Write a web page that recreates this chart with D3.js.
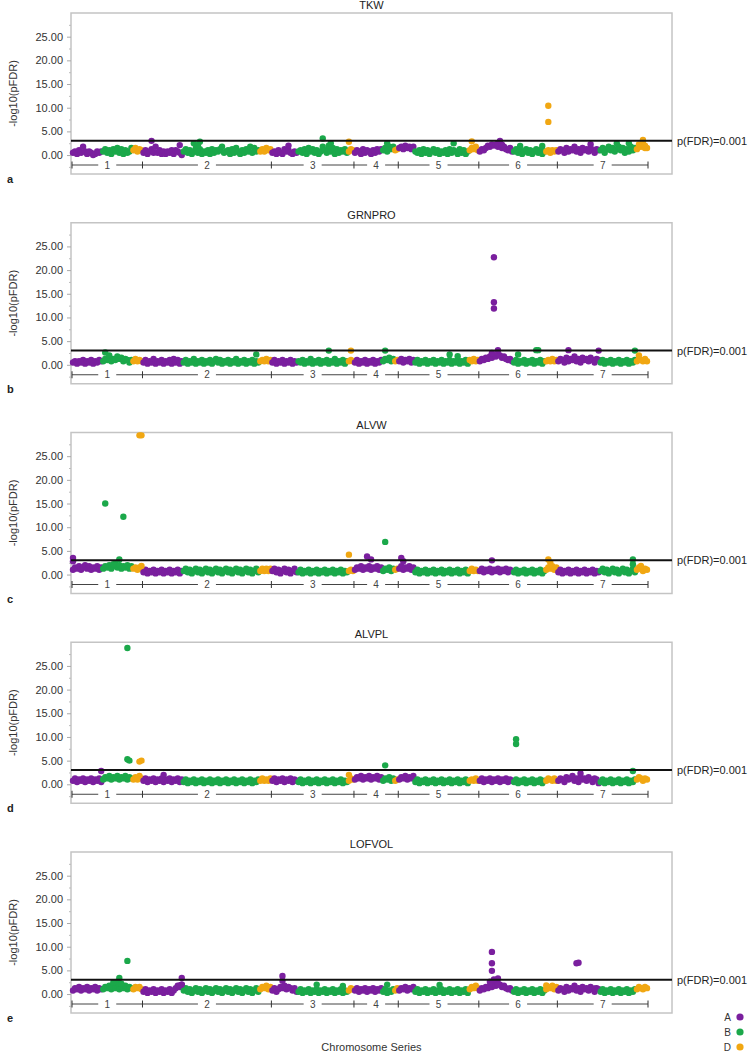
<!DOCTYPE html>
<html><head><meta charset="utf-8">
<script src="https://cdn.jsdelivr.net/npm/d3@7"></script>
<style>body{margin:0;background:#fff}svg{display:block;font-family:"Liberation Sans",Arial,sans-serif}</style>
</head><body><svg id="c" width="750" height="1056"></svg>
<script>
const panelTitles=["TKW","GRNPRO","ALVW","ALVPL","LOFVOL"];
const panelLetters=["a","b","c","d","e"];
const chromosomes=["1","2","3","4","5","6","7"];
const genomes=["A","B","D"];
// markers per chromosome and sub-genome (A,B,D), in series order
const segmentCounts=[[15,15,5],[20,38,6],[13,25,3],[14,6,2],[8,27,5],[17,16,6],[21,18,6]];
const yTicks=[0,5,10,15,20,25];
const yMinorTicks=[-2.5,2.5,7.5,12.5,17.5,22.5,27.5];
const threshold=3;
const thresholdLabel="p(FDR)=0.001";
const yLabel="-log10(pFDR)";
const xLabel="Chromosome Series";
// baseline -log10(pFDR) of markers, one digit per marker (digit x 0.25), per chromosome segment A,B,D
const baseTKW=["231427313201323","352415362514236","46354",
 "24135272413132414320","35241362513241524357234152631425372634","353645",
 "2314215342132","3425163524137425361524352","354",
 "24315243142535","463757","45",
 "67586757","324152413524132415243152413","46574",
 "35468798978675463","3524135241352413","342434",
 "354263547352645364254","462574635746253746","597866"];
const baseGRNPRO=["231324132413243","354635475635424","35343",
 "24132513241324152413","24132513241324135241324132513241324132","343534",
 "2413241324132","3241325132413241325132413","343",
 "24132413241324","354635","34",
 "35243524","241324132413241324132413241","43534",
 "35465768798675453","2413241324132413","343534",
 "354263547352645364254","241324132413241324","354353"];
const baseALVW=["465746857465746","576857968576857","56465",
 "24132413241324132413","35241352413524135241352413524135241352","353535",
 "3524135241352","2413241324132413241324132","343",
 "46574657465746","354635","45",
 "57465746","241324132413241324132413241","35343",
 "35243524352435243","2413241324132413","465746",
 "241324132413241324132","352413524135241352","465354"];
const baseALVPL=["352435243524352","465746574657465","46475",
 "35243524352435243524","24132413241324132413241324132413241324","353435",
 "3524352435243","2413241324132413241324132","354",
 "46574657465746","354635","34",
 "46574657","241324132413241324132413241","34353",
 "35243524352435243","2413241324132413","354353",
 "354264573526453642541","241324132413241324","465354"];
const baseLOFVOL=["354635463546354","465746574657465","46564",
 "24132413241324135768","35241352413524135241352413524135241352","465746",
 "3524657465352","2413241324132413241324132","354",
 "35243524352435","241324","35",
 "35463546","241324132413241324132413241","46575",
 "35465768798675453","2413241324132413","465746",
 "354263547352645364254","241324132413241324","465465"];
// [marker index, -log10(pFDR)] for markers standing above the baseline
const peaksTKW=[[39,3.0],[53,2.1],[60,2.5],[63,2.8],[62,2.0],[107,2.0],[124,3.5],[127,2.0],[128,2.5],[137,2.8],[156,2.5],[189,2.5],[198,2.9],[212,3.0],[211,2.4],[213,2.2],[222,1.9],[233,1.9],[236,10.4],[236,7.0],[257,2.3],[270,2.5],[276,2.5],[283,3.2],[283,2.4],[284,2.0]];
const peaksGRNPRO=[[16,2.6],[18,2.0],[91,2.2],[127,3.0],[138,3.0],[155,3.0],[187,2.2],[191,1.8],[209,22.7],[209,13.2],[209,11.9],[211,3.1],[208,2.5],[221,2.2],[230,3.1],[231,3.1],[246,3.1],[261,3.0],[279,3.0],[281,2.0]];
const peaksALVW=[[0,3.5],[0,2.8],[16,15.0],[25,12.2],[23,3.2],[20,2.2],[33,29.4],[34,29.4],[34,1.8],[137,4.2],[146,3.8],[148,3.2],[155,6.9],[163,3.5],[164,2.8],[208,3.0],[236,3.2],[237,2.5],[278,3.2],[278,2.2],[282,1.8]];
const peaksALVPL=[[14,2.8],[27,28.8],[27,5.3],[28,5.0],[34,5.0],[33,4.8],[45,2.0],[137,2.0],[155,4.0],[220,9.5],[220,8.5],[252,2.3],[278,2.8]];
const peaksLOFVOL=[[27,7.0],[23,3.4],[22,2.6],[20,2.4],[24,2.2],[54,3.4],[54,2.0],[53,1.8],[104,3.8],[104,2.8],[121,2.0],[134,1.7],[156,2.0],[182,1.9],[208,8.9],[208,6.5],[208,4.9],[209,3.1],[207,2.6],[211,3.3],[211,2.0],[235,1.8],[250,6.5],[251,6.6],[259,1.2]];

const baselines=[baseTKW,baseGRNPRO,baseALVW,baseALVPL,baseLOFVOL];
const peaks=[peaksTKW,peaksGRNPRO,peaksALVW,peaksALVPL,peaksLOFVOL];
const colors={A:"#7a1f9e",B:"#1ba84a",D:"#f1a712"};

// segment table
const segs=[];let cum=0;
segmentCounts.forEach((cs,ci)=>cs.forEach((n,gi)=>{segs.push({chr:ci,g:genomes[gi],start:cum,n});cum+=n;}));
const total=cum;
const chrBounds=[];cum=0;segmentCounts.forEach(cs=>{const s=cum;cum+=d3.sum(cs);chrBounds.push([s,cum]);});
const genomeOf=i=>{const s=segs.find(s=>i>=s.start&&i<s.start+s.n);return s?s.g:"A";};

const svg=d3.select("#c");
const boxL=71,boxR=672,boxH=161,panelStep=209.75,firstTop=13;
const x=d3.scaleLinear().domain([0,total]).range([72,648]);

panelTitles.forEach((title,p)=>{
  const top=firstTop+p*panelStep;
  const y=d3.scaleLinear().domain([-4,30]).range([top+boxH,top]);
  const g=svg.append("g");
  // box
  g.append("rect").attr("x",boxL).attr("y",top).attr("width",boxR-boxL).attr("height",boxH)
    .attr("fill","none").attr("stroke","#c4c4c4").attr("stroke-width",1.5);
  // y axis
  const ax=g.append("g").attr("transform",`translate(${boxL},0)`)
    .call(d3.axisLeft(y).tickValues(yTicks).tickFormat(d3.format(".2f")).tickSize(4).tickPadding(4));
  ax.select(".domain").remove();
  ax.selectAll("line").attr("stroke","#aaa");
  ax.selectAll("text").attr("font-size",11).attr("fill","#333").attr("font-family","Liberation Sans, Arial, sans-serif");
  const am=g.append("g").attr("transform",`translate(${boxL},0)`)
    .call(d3.axisLeft(y).tickValues(yMinorTicks).tickFormat("").tickSize(2));
  am.select(".domain").remove();
  am.selectAll("line").attr("stroke","#bbb");
  // y label
  g.append("text").attr("transform",`translate(17,${top+boxH/2}) rotate(-90)`).attr("text-anchor","middle")
    .attr("font-size",11).attr("fill","#333").text(yLabel);
  // title
  g.append("text").attr("x",(boxL+boxR)/2).attr("y",top-4).attr("text-anchor","middle")
    .attr("font-size",11).attr("fill","#222").text(title);
  // letter
  g.append("text").attr("x",7).attr("y",top+boxH+9).attr("font-size",11).attr("font-weight","bold")
    .attr("fill","#222").text(panelLetters[p]);
  // chromosome axis
  const cy=y(-2.1);
  const ca=g.append("g");
  chrBounds.forEach(([s,e],ci)=>{
    const x0=x(s),x1=x(e),xm=(x0+x1)/2;
    ca.append("line").attr("x1",x0).attr("x2",xm-9).attr("y1",cy).attr("y2",cy).attr("stroke","#444");
    ca.append("line").attr("x1",xm+9).attr("x2",x1).attr("y1",cy).attr("y2",cy).attr("stroke","#444");
    ca.append("text").attr("x",xm).attr("y",cy+3.5).attr("text-anchor","middle").attr("font-size",10).attr("fill","#444").text(chromosomes[ci]);
  });
  chrBounds.map(b=>b[0]).concat([total]).forEach(v=>{
    ca.append("line").attr("x1",x(v)).attr("x2",x(v)).attr("y1",cy-3.5).attr("y2",cy+3.5).attr("stroke","#333");
  });
  // data
  const pts=[];
  baselines[p].forEach((str,si)=>{
    const s=segs[si];
    str.split("").forEach((ch,k)=>pts.push({i:s.start+k,v:+ch*0.25,g:s.g}));
  });
  peaks[p].forEach(([i,v])=>pts.push({i,v,g:genomeOf(i)}));
  g.append("g").selectAll("circle").data(pts).join("circle")
    .attr("cx",d=>x(d.i+0.5)).attr("cy",d=>y(d.v)).attr("r",3.2).attr("fill",d=>colors[d.g]);
  // threshold
  g.append("line").attr("x1",boxL).attr("x2",boxR).attr("y1",y(threshold)).attr("y2",y(threshold))
    .attr("stroke","#111").attr("stroke-width",2);
  g.append("text").attr("x",boxR+5).attr("y",y(threshold)+4).attr("font-size",11).attr("fill","#222").text(thresholdLabel);
});

// x label
svg.append("text").attr("x",(boxL+boxR)/2).attr("y",1051).attr("text-anchor","middle").attr("font-size",11).attr("fill","#333").text(xLabel);
// legend
const lg=svg.append("g");
genomes.forEach((gname,i)=>{
  const ly=1017+i*15;
  lg.append("text").attr("x",731).attr("y",ly+4).attr("text-anchor","end").attr("font-size",10).attr("fill","#333").text(gname);
  lg.append("circle").attr("cx",740).attr("cy",ly).attr("r",3.6).attr("fill",colors[gname]);
});
</script></body></html>
